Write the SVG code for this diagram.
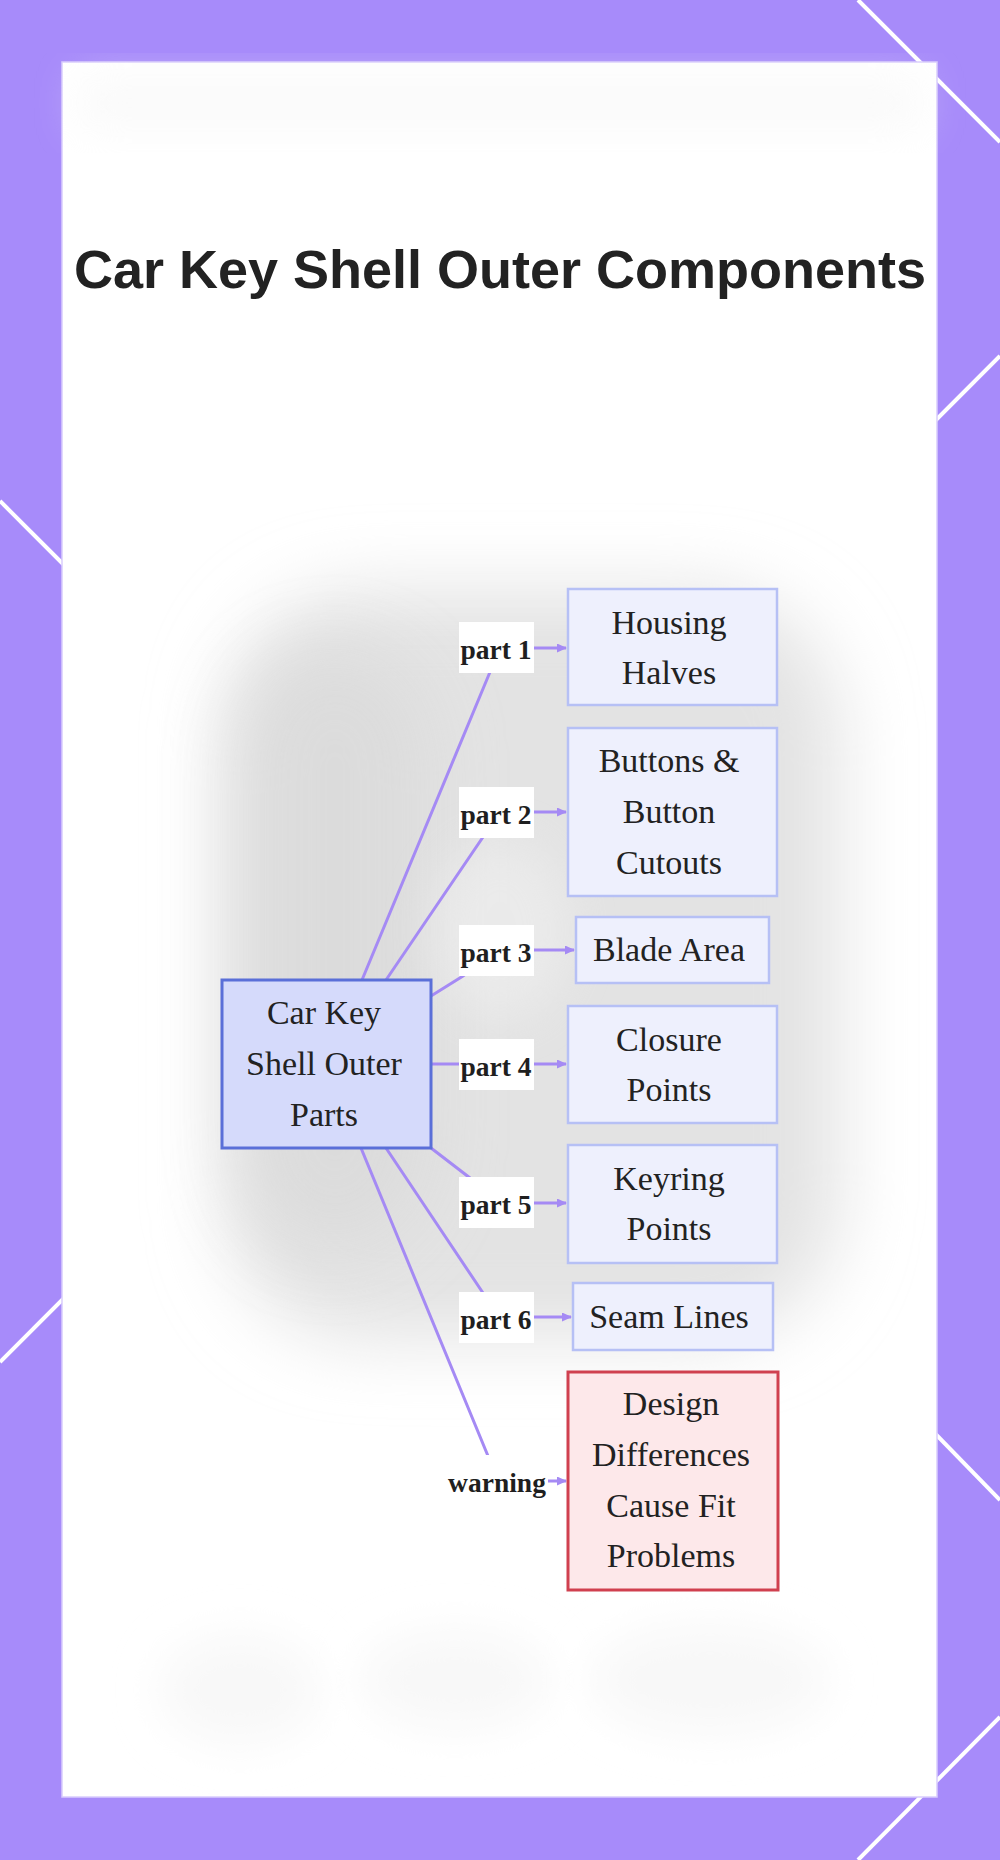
<svg xmlns="http://www.w3.org/2000/svg" width="1000" height="1860" viewBox="0 0 1000 1860">
  <defs>
    <filter id="blurBig" x="-50%" y="-50%" width="200%" height="200%">
      <feGaussianBlur stdDeviation="36"/>
    </filter>
    <filter id="blurMid" x="-50%" y="-50%" width="200%" height="200%">
      <feGaussianBlur stdDeviation="22"/>
    </filter>
    <marker id="arrow" markerUnits="userSpaceOnUse" markerWidth="10" markerHeight="9" refX="9" refY="4.5" orient="auto">
      <path d="M0,0 L10,4.5 L0,9 z" fill="#a58af4"/>
    </marker>
    <style>
      .deco { stroke: #ffffff; stroke-width: 4; fill: none; }
      .leaf { fill: #eef0fd; stroke: #b6c0f5; stroke-width: 2.5; }
      .center { fill: #d5dafb; stroke: #5a6fd8; stroke-width: 3; }
      .warn { fill: #fde8ea; stroke: #d0404f; stroke-width: 3; }
      .edge { stroke: #a58af4; stroke-width: 3; fill: none; }
      .lblbg { fill: #ffffff; }
      .lbl { font-family: "Liberation Serif", "Times New Roman", serif; font-weight: bold; font-size: 27.5px; fill: #1f1f1f; text-anchor: middle; }
      .ntxt { font-family: "Liberation Serif", "Times New Roman", serif; font-size: 34px; fill: #222222; text-anchor: middle; }
      .title { font-family: "Liberation Sans", Arial, sans-serif; font-weight: bold; font-size: 54px; fill: #222222; text-anchor: middle; }
    </style>
  </defs>

  <!-- background -->
  <rect x="0" y="0" width="1000" height="1860" fill="#a78bfa"/>
  <g id="decor-lines">
    <line class="deco" x1="858" y1="0" x2="1000" y2="142"/>
    <line class="deco" x1="1000" y1="356" x2="880" y2="476"/>
    <line class="deco" x1="0" y1="501" x2="120" y2="621"/>
    <line class="deco" x1="0" y1="1362" x2="120" y2="1242"/>
    <line class="deco" x1="880" y1="1377" x2="1000" y2="1500"/>
    <line class="deco" x1="1000" y1="1717" x2="858" y2="1860"/>
  </g>

  <!-- panel -->
  <rect x="62" y="62" width="875" height="1735" fill="#ffffff" stroke="#d9cdfd" stroke-width="1.5"/>

  <!-- soft background shading -->
  <g id="shading">
    <rect x="80" y="78" width="840" height="50" fill="#f4f4f4" filter="url(#blurMid)" opacity="0.5"/>
    <rect x="225" y="590" width="615" height="750" rx="140" fill="#e3e3e3" filter="url(#blurBig)"/>
    <rect x="240" y="650" width="190" height="600" rx="100" fill="#dadada" filter="url(#blurBig)" opacity="0.8"/>
    <ellipse cx="500" cy="930" rx="70" ry="90" fill="#f0f0f0" filter="url(#blurMid)" opacity="0.6"/>
    <ellipse cx="240" cy="1690" rx="80" ry="55" fill="#f8f8f8" filter="url(#blurMid)"/>
    <ellipse cx="455" cy="1680" rx="95" ry="50" fill="#f8f8f8" filter="url(#blurMid)"/>
    <ellipse cx="710" cy="1680" rx="120" ry="55" fill="#f8f8f8" filter="url(#blurMid)"/>
  </g>

  <!-- title -->
  <text class="title" x="500" y="288">Car Key Shell Outer Components</text>

  <!-- connectors -->
  <g id="connectors">
    <path class="edge" d="M362,980 L490,672 L500,648 L566,648" marker-end="url(#arrow)"/>
    <path class="edge" d="M386,980 L483,837 L496,812 L566,812" marker-end="url(#arrow)"/>
    <path class="edge" d="M431,996 L463,976 L496,950 L574,950" marker-end="url(#arrow)"/>
    <path class="edge" d="M431,1064 L566,1064" marker-end="url(#arrow)"/>
    <path class="edge" d="M431,1148 L470,1178 L496,1203 L566,1203" marker-end="url(#arrow)"/>
    <path class="edge" d="M386,1148 L483,1293 L496,1317 L571,1317" marker-end="url(#arrow)"/>
    <path class="edge" d="M361,1148 L488,1456 L497,1481 L566,1481" marker-end="url(#arrow)"/>
  </g>

  <!-- edge labels -->
  <g id="edge-labels">
    <rect class="lblbg" x="459" y="622" width="75" height="51"/>
    <text class="lbl" x="496" y="659">part 1</text>
    <rect class="lblbg" x="459" y="787" width="75" height="51"/>
    <text class="lbl" x="496" y="824">part 2</text>
    <rect class="lblbg" x="459" y="925" width="75" height="51"/>
    <text class="lbl" x="496" y="962">part 3</text>
    <rect class="lblbg" x="459" y="1039" width="75" height="51"/>
    <text class="lbl" x="496" y="1076">part 4</text>
    <rect class="lblbg" x="459" y="1177" width="75" height="51"/>
    <text class="lbl" x="496" y="1214">part 5</text>
    <rect class="lblbg" x="459" y="1292" width="75" height="51"/>
    <text class="lbl" x="496" y="1329">part 6</text>
    <rect class="lblbg" x="446" y="1455" width="102" height="52"/>
    <text class="lbl" x="497" y="1492">warning</text>
  </g>

  <!-- nodes -->
  <g id="node-center">
    <rect class="center" x="222" y="980" width="209" height="168"/>
    <text class="ntxt" x="324" y="1024">Car Key</text>
    <text class="ntxt" x="324" y="1075">Shell Outer</text>
    <text class="ntxt" x="324" y="1126">Parts</text>
  </g>
  <g id="node-housing">
    <rect class="leaf" x="568" y="589" width="209" height="116"/>
    <text class="ntxt" x="669" y="634">Housing</text>
    <text class="ntxt" x="669" y="684">Halves</text>
  </g>
  <g id="node-buttons">
    <rect class="leaf" x="568" y="728" width="209" height="168"/>
    <text class="ntxt" x="669" y="772">Buttons &amp;</text>
    <text class="ntxt" x="669" y="823">Button</text>
    <text class="ntxt" x="669" y="874">Cutouts</text>
  </g>
  <g id="node-blade">
    <rect class="leaf" x="576" y="917" width="193" height="66"/>
    <text class="ntxt" x="669" y="961">Blade Area</text>
  </g>
  <g id="node-closure">
    <rect class="leaf" x="568" y="1006" width="209" height="117"/>
    <text class="ntxt" x="669" y="1051">Closure</text>
    <text class="ntxt" x="669" y="1101">Points</text>
  </g>
  <g id="node-keyring">
    <rect class="leaf" x="568" y="1145" width="209" height="118"/>
    <text class="ntxt" x="669" y="1190">Keyring</text>
    <text class="ntxt" x="669" y="1240">Points</text>
  </g>
  <g id="node-seam">
    <rect class="leaf" x="573" y="1283" width="200" height="67"/>
    <text class="ntxt" x="669" y="1328">Seam Lines</text>
  </g>
  <g id="node-warning">
    <rect class="warn" x="568" y="1372" width="210" height="218"/>
    <text class="ntxt" x="671" y="1415">Design</text>
    <text class="ntxt" x="671" y="1466">Differences</text>
    <text class="ntxt" x="671" y="1517">Cause Fit</text>
    <text class="ntxt" x="671" y="1567">Problems</text>
  </g>
</svg>
